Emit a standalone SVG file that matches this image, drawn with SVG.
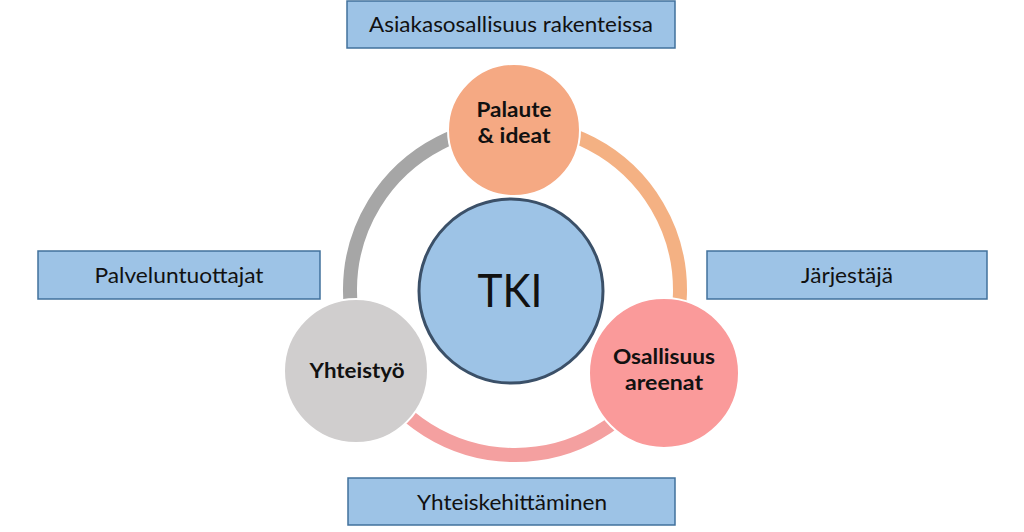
<svg xmlns="http://www.w3.org/2000/svg" width="1024" height="532" viewBox="0 0 1024 532">
<style>
.box{fill:#9DC3E6;stroke:#41719C;stroke-width:1.5}
.bt{font-family:Lato,"Open Sans",sans-serif;font-size:22px;fill:#111;text-anchor:middle}
.ct{font-family:Lato,"Open Sans",sans-serif;font-weight:bold;font-size:20px;fill:#111;text-anchor:middle}
.arc{fill:none;stroke-width:14}
.node{stroke:#fff;stroke-width:2}
</style>
<rect width="1024" height="532" fill="#fff"/>
<g id="connectors">
<path class="arc" stroke="#A6A6A6" d="M515,125 A165,165 0 0 0 368,365"/>
<path class="arc" stroke="#F4B183" d="M515,125 A165,165 0 0 1 659.3,370"/>
<path class="arc" stroke="#F4A0A0" d="M659.3,370 A165,165 0 0 1 368,365"/>
</g>
<g id="box-top"><rect class="box" x="347" y="1" width="328" height="47"/><text class="bt" x="511" y="32" textLength="284" lengthAdjust="spacingAndGlyphs">Asiakasosallisuus rakenteissa</text></g>
<g id="box-left"><rect class="box" x="38" y="251" width="282" height="48"/><text class="bt" x="179" y="283" textLength="169" lengthAdjust="spacingAndGlyphs">Palveluntuottajat</text></g>
<g id="box-right"><rect class="box" x="707" y="251" width="280" height="48"/><text class="bt" x="847" y="283" textLength="92" lengthAdjust="spacingAndGlyphs">Järjestäjä</text></g>
<g id="box-bottom"><rect class="box" x="348" y="478" width="327" height="47"/><text class="bt" x="512" y="510" textLength="190" lengthAdjust="spacingAndGlyphs">Yhteiskehittäminen</text></g>
<g id="tki"><circle cx="511" cy="291" r="92" fill="#9DC3E6" stroke="#3B5068" stroke-width="3"/><text x="510" y="307" font-family="Lato,'Open Sans',sans-serif" font-size="46" fill="#111" text-anchor="middle" textLength="65" lengthAdjust="spacingAndGlyphs">TKI</text></g>
<g id="palaute"><circle class="node" cx="514" cy="130" r="66" fill="#F5A983"/><text class="ct" x="514" y="117" textLength="75" lengthAdjust="spacingAndGlyphs">Palaute</text><text class="ct" x="514" y="143" textLength="73" lengthAdjust="spacingAndGlyphs">&amp; ideat</text></g>
<g id="yhteistyo"><circle class="node" cx="356" cy="371" r="72" fill="#D0CECE"/><text class="ct" x="357" y="378" textLength="95" lengthAdjust="spacingAndGlyphs">Yhteistyö</text></g>
<g id="osallisuus"><circle class="node" cx="664" cy="373" r="75" fill="#FA9A9A"/><text class="ct" x="664" y="364" textLength="102" lengthAdjust="spacingAndGlyphs">Osallisuus</text><text class="ct" x="664" y="390" textLength="78" lengthAdjust="spacingAndGlyphs">areenat</text></g>
</svg>
